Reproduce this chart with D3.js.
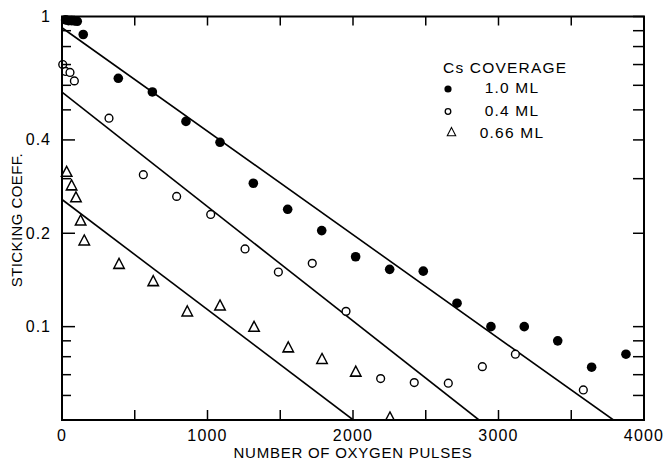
<!DOCTYPE html>
<html>
<head>
<meta charset="utf-8">
<script src="https://cdn.jsdelivr.net/npm/d3@7"></script>
<style>
  html, body { margin: 0; padding: 0; background: #fff; }
  svg { display: block; font-family: "Liberation Sans", Arial, sans-serif; }
</style>
</head>
<body>
<div id="chart"></div>
<script>
// Cs 1.0 ML (filled circles)
const pulsesFull = [25, 45, 65, 85, 105, 146, 387, 621, 852, 1086, 1315, 1551, 1785, 2018, 2252, 2483, 2715, 2948, 3177, 3407, 3640, 3876];
const stickFull  = [0.975, 0.97, 0.97, 0.968, 0.965, 0.875, 0.632, 0.571, 0.459, 0.393, 0.290, 0.239, 0.204, 0.168, 0.153, 0.151, 0.119, 0.100, 0.100, 0.090, 0.074, 0.0815];

// Cs 0.4 ML (open circles)
const pulsesLow = [5, 25, 55, 85, 323, 559, 788, 1022, 1258, 1487, 1720, 1952, 2190, 2421, 2655, 2889, 3116, 3583];
const stickLow  = [0.70, 0.665, 0.66, 0.62, 0.470, 0.309, 0.263, 0.230, 0.178, 0.150, 0.160, 0.112, 0.068, 0.066, 0.0657, 0.0743, 0.0815, 0.0625];

// Cs 0.66 ML (triangles)
const pulsesMid = [32, 66, 96, 128, 153, 392, 627, 861, 1086, 1320, 1555, 1787, 2019, 2254];
const stickMid  = [0.313, 0.283, 0.259, 0.218, 0.188, 0.158, 0.139, 0.111, 0.116, 0.099, 0.085, 0.078, 0.071, 0.0505];

// straight fit lines (start, end) for each coverage
const fitPulses = [[0, 3790], [0, 2866], [0, 2002]];
const fitStick  = [[0.92, 0.05], [0.57, 0.05], [0.257, 0.05]];

const legendTitle = "Cs COVERAGE";
const legendLabels = ["1.0 ML", "0.4 ML", "0.66 ML"];

const xTickLabels = [0, 1000, 2000, 3000, 4000];
const xMinorTicks = [500, 1500, 2500, 3500];
const yTickLabels = [0.1, 0.2, 0.4, 1];
const yMinorTicks = [0.06, 0.07, 0.08, 0.09, 0.3, 0.5, 0.6, 0.7, 0.8, 0.9];

const W = 667, H = 461;
const margin = { left: 62, right: 23, top: 16.5, bottom: 41 };
const plotW = W - margin.left - margin.right;
const plotH = H - margin.top - margin.bottom;

const svg = d3.select('#chart').append('svg')
  .attr('width', W)
  .attr('height', H);

const x = d3.scaleLinear().domain([0, 4000]).range([margin.left, margin.left + plotW]);
const y = d3.scaleLog().domain([0.05, 1]).range([margin.top + plotH, margin.top]);

svg.append('clipPath').attr('id', 'plotClip')
  .append('rect')
  .attr('x', margin.left - 10).attr('y', margin.top - 10)
  .attr('width', plotW + 20).attr('height', plotH + 10);

const plot = svg.append('g').attr('clip-path', 'url(#plotClip)');

// fit lines
const line = d3.line().x(d => x(d[0])).y(d => y(d[1]));
fitPulses.forEach((px, i) => {
  plot.append('path')
    .datum(d3.zip(px, fitStick[i]))
    .attr('d', line)
    .attr('fill', 'none')
    .attr('stroke', '#000')
    .attr('stroke-width', 1.6);
});

// markers
plot.selectAll('circle.full')
  .data(d3.zip(pulsesFull, stickFull))
  .enter().append('circle')
  .attr('class', 'full')
  .attr('cx', d => x(d[0])).attr('cy', d => y(d[1]))
  .attr('r', 4.8).attr('fill', '#000');

plot.selectAll('circle.low')
  .data(d3.zip(pulsesLow, stickLow))
  .enter().append('circle')
  .attr('class', 'low')
  .attr('cx', d => x(d[0])).attr('cy', d => y(d[1]))
  .attr('r', 3.9).attr('fill', '#fff')
  .attr('stroke', '#000').attr('stroke-width', 1.4);

const tri = d3.symbol().type(d3.symbolTriangle).size(48);
plot.selectAll('path.mid')
  .data(d3.zip(pulsesMid, stickMid))
  .enter().append('path')
  .attr('class', 'mid')
  .attr('d', tri)
  .attr('transform', d => `translate(${x(d[0])},${y(d[1])}) scale(1,1.1)`)
  .attr('fill', 'none')
  .attr('stroke', '#000').attr('stroke-width', 1.4);

// frame
svg.append('rect')
  .attr('x', margin.left).attr('y', margin.top)
  .attr('width', plotW).attr('height', plotH)
  .attr('fill', 'none').attr('stroke', '#000').attr('stroke-width', 2);

// x ticks (bottom + top, inward)
const bottomY = margin.top + plotH, topY = margin.top;
const xAll = xTickLabels.concat(xMinorTicks);
xAll.forEach(v => {
  svg.append('line').attr('x1', x(v)).attr('x2', x(v))
    .attr('y1', bottomY).attr('y2', bottomY - 10)
    .attr('stroke', '#000').attr('stroke-width', 1.5);
  svg.append('line').attr('x1', x(v)).attr('x2', x(v))
    .attr('y1', topY).attr('y2', topY + 9)
    .attr('stroke', '#000').attr('stroke-width', 1.5);
});

svg.selectAll('text.xtick')
  .data(xTickLabels)
  .enter().append('text')
  .attr('class', 'xtick')
  .attr('x', d => x(d)).attr('y', bottomY + 21)
  .attr('text-anchor', 'middle')
  .attr('font-size', 16).attr('letter-spacing', 1.2)
  .text(d => d);

// y ticks (left + right, inward)
const leftX = margin.left, rightX = margin.left + plotW;
const yTicks = yTickLabels.map(v => ({ v, len: 13 })).concat(yMinorTicks.map(v => ({ v, len: 9 })));
yTicks.forEach(t => {
  svg.append('line').attr('x1', leftX).attr('x2', leftX + t.len)
    .attr('y1', y(t.v)).attr('y2', y(t.v))
    .attr('stroke', '#000').attr('stroke-width', 1.5);
  svg.append('line').attr('x1', rightX).attr('x2', rightX - 11)
    .attr('y1', y(t.v)).attr('y2', y(t.v))
    .attr('stroke', '#000').attr('stroke-width', 1.5);
});

svg.selectAll('text.ytick')
  .data(yTickLabels)
  .enter().append('text')
  .attr('class', 'ytick')
  .attr('x', 51).attr('y', d => y(d) + 5.5)
  .attr('text-anchor', 'end')
  .attr('font-size', 16).attr('letter-spacing', 1)
  .text(d => d);

// axis titles
svg.append('text')
  .attr('x', margin.left + plotW / 2).attr('y', 458)
  .attr('text-anchor', 'middle')
  .attr('font-size', 15).attr('letter-spacing', 0.75)
  .text('NUMBER OF OXYGEN PULSES');

svg.append('text')
  .attr('transform', 'translate(22,220) rotate(-90)')
  .attr('text-anchor', 'middle')
  .attr('font-size', 15).attr('letter-spacing', 0.4)
  .text('STICKING COEFF.');

// legend
const lg = svg.append('g');
lg.append('text').attr('x', 443).attr('y', 73)
  .attr('font-size', 15.5).attr('letter-spacing', 1.2)
  .text(legendTitle);
const legendY = [93, 116, 138];
legendLabels.forEach((lab, i) => {
  lg.append('text').attr('x', 512).attr('y', legendY[i])
    .attr('text-anchor', 'middle')
    .attr('font-size', 15.5).attr('letter-spacing', 1.2)
    .text(lab);
});
lg.append('circle').attr('cx', 448).attr('cy', 89).attr('r', 3.6).attr('fill', '#000');
lg.append('circle').attr('cx', 448).attr('cy', 111.5).attr('r', 2.8)
  .attr('fill', 'none').attr('stroke', '#000').attr('stroke-width', 1.3);
lg.append('path').attr('d', tri)
  .attr('transform', 'translate(451.5,133) scale(0.8,0.9)')
  .attr('fill', 'none').attr('stroke', '#000').attr('stroke-width', 1.3);
</script>
</body>
</html>
